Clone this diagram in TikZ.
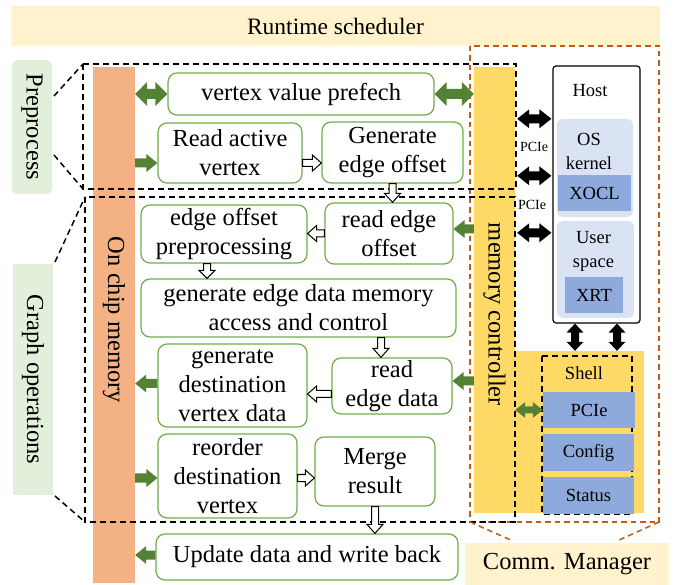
\documentclass[tikz,border=0pt]{standalone}
\usepackage{fontspec}
\setmainfont{Liberation Serif}
\usetikzlibrary{calc}
\definecolor{pgreen}{HTML}{70AD47}
\definecolor{agreen}{HTML}{548235}
\definecolor{lgreen}{HTML}{E2EFDA}
\definecolor{salmon}{HTML}{F4B183}
\definecolor{gold}{HTML}{FFD966}
\definecolor{cream}{HTML}{FFF2CC}
\definecolor{lblue}{HTML}{DAE3F3}
\definecolor{mblue}{HTML}{8EA9DB}
\definecolor{rust}{HTML}{C55A11}
\newcommand\fmain{\fontsize{24.5}{29}\selectfont}
\newcommand\fsmall{\fontsize{18.5}{24}\selectfont}
\newcommand\ftiny{\fontsize{14}{16}\selectfont}
% single block arrow: style, start, end, shaft half, head half, head length
\newcommand\sarrow[6]{%
 \coordinate (tmpB) at ($(#3)!#6pt!(#2)$);
 \path[#1] ($(#2)!#4pt!90:(#3)$) -- ($(tmpB)!#4pt!90:(#3)$) -- ($(tmpB)!#5pt!90:(#3)$) -- (#3)
   -- ($(tmpB)!#5pt!-90:(#3)$) -- ($(tmpB)!#4pt!-90:(#3)$) -- ($(#2)!#4pt!-90:(#3)$) -- cycle;}
% double block arrow
\newcommand\darrow[6]{%
 \coordinate (tmpA) at ($(#2)!#6pt!(#3)$);
 \coordinate (tmpB) at ($(#3)!#6pt!(#2)$);
 \path[#1] (#2) -- ($(tmpA)!#5pt!90:(#3)$) -- ($(tmpA)!#4pt!90:(#3)$) -- ($(tmpB)!#4pt!90:(#3)$)
   -- ($(tmpB)!#5pt!90:(#3)$) -- (#3) -- ($(tmpB)!#5pt!-90:(#3)$) -- ($(tmpB)!#4pt!-90:(#3)$)
   -- ($(tmpA)!#4pt!-90:(#3)$) -- ($(tmpA)!#5pt!-90:(#3)$) -- cycle;}
\tikzset{
 proc/.style={draw=pgreen, line width=1.2pt, rounded corners=9pt, fill=white, align=center, inner sep=0pt, font=\fmain},
 band/.style={inner sep=0pt, draw=none},
 blue/.style={fill=mblue, inner sep=0pt, font=\fsmall},
 dbox/.style={draw=black, line width=1.6pt, dash pattern=on 6pt off 4pt},
 obox/.style={draw=rust, line width=1.6pt, dash pattern=on 5.5pt off 4pt},
 garr/.style={fill=agreen},
 barr/.style={fill=black},
 harr/.style={draw=black, line width=1pt, fill=white, line join=miter},
}
\begin{document}
\begin{tikzpicture}[x=1pt,y=-1pt]
\useasboundingbox (0,0) rectangle (678,585);
% bands
\node[band, fill=cream, minimum width=649pt, minimum height=40pt, font=\fontsize{23.5}{26}\selectfont] (rs) at (335.5,26) {Runtime scheduler};
\node[band, fill=cream, minimum width=204pt, minimum height=42pt, font=\fmain] (cm) at (567,564) {Comm. Manager};
\node[band, fill=lgreen, rounded corners=5pt, minimum width=40pt, minimum height=134pt] (ppl) at (32,127) {};
\node[rotate=-90, font=\fmain] at (ppl.center) {Preprocess};
\node[band, fill=lgreen, minimum width=40pt, minimum height=231pt] (gol) at (33,379.5) {};
\node[rotate=-90, font=\fmain] at (gol.center) {Graph operations};
% bars
\node[band, fill=salmon, minimum width=42pt, minimum height=516pt] (bar) at (114,325) {};
\node[rotate=-90, font=\fmain] at (114,320) {On chip memory};
\node[band, fill=gold, minimum width=41pt, minimum height=446pt] (mc) at (494.5,290) {};
\node[band, fill=gold, minimum width=129pt, minimum height=162pt] (sa) at (579.5,432) {};
\node[rotate=-90, font=\fmain] at (494.5,314.5) {memory controller};
% dashed boxes
\draw[obox] (470,46) rectangle (659,522);
\draw[dbox] (83,64) rectangle (516,189);
\draw[dbox] (85,197) rectangle (515,522);
\draw[dbox] (542,356) rectangle (632,514);
\draw[dbox, line width=1.5pt] (54,96) -- (83,64);
\draw[dbox, line width=1.5pt] (54,155) -- (83,189);
\draw[dbox, line width=1.5pt] (55,262) -- (85,197);
\draw[dbox, line width=1.5pt] (55,496) -- (85,522);
\draw[obox, line width=1.5pt] (470,522) -- (513,541);
\draw[obox, line width=1.5pt] (659,522) -- (617,541);
% host
\node[draw=black, line width=1.2pt, rounded corners=3pt, fill=white, minimum width=87pt, minimum height=257pt, inner sep=0pt] (host) at (596.5,194.5) {};
\node[font=\fsmall] at (590,91) {Host};
\node[band, fill=lblue, rounded corners=6pt, minimum width=76pt, minimum height=98pt] (osk) at (595,168) {};
\node[font=\fsmall, align=center] at (589,151) {OS\\kernel};
\node[blue, minimum width=73pt, minimum height=36pt] (xocl) at (594.5,193) {XOCL};
\node[band, fill=lblue, rounded corners=6pt, minimum width=77pt, minimum height=97pt] (usp) at (595.5,269.5) {};
\node[font=\fsmall, align=center] at (593.5,251) {User\\space};
\node[blue, minimum width=58pt, minimum height=36pt] (xrt) at (594,295) {XRT};
% shell
\node[font=\fsmall] at (584,373) {Shell};
\node[blue, minimum width=92pt, minimum height=36pt] (pcie) at (589,410) {PCIe};
\node[blue, minimum width=91pt, minimum height=37pt] (cfg) at (588.5,452.5) {Config};
\node[blue, minimum width=91pt, minimum height=37pt] (sts) at (588.5,495.5) {Status};
\node[font=\ftiny] at (534,147) {PCIe};
\node[font=\ftiny] at (532,205) {PCIe};
% process nodes
\node[proc, minimum width=266pt, minimum height=42pt] (vv) at (301,94) {vertex value prefech};
\node[proc, minimum width=144pt, minimum height=60pt] (ra) at (230,153) {Read active\\vertex};
\node[proc, minimum width=141pt, minimum height=61pt] (ge) at (392.5,152.5) {Generate\\edge offset};
\node[proc, minimum width=128pt, minimum height=61pt] (reo) at (389,233.5) {read edge\\offset};
\node[proc, minimum width=166pt, minimum height=58pt] (eop) at (224,234) {edge offset\\preprocessing};
\node[proc, minimum width=315pt, minimum height=58pt] (gem) at (298.5,308) {generate edge data memory\\access and control};
\node[proc, minimum width=120pt, minimum height=56pt] (red) at (392,386) {read\\edge data};
\node[proc, minimum width=149pt, minimum height=83pt] (gdv) at (232.5,385.5) {generate\\destination\\vertex data};
\node[proc, minimum width=139pt, minimum height=84pt] (rdv) at (227.5,476) {reorder\\destination\\vertex};
\node[proc, minimum width=120pt, minimum height=69pt] (mr) at (375,471.5) {Merge\\result};
\node[proc, minimum width=302pt, minimum height=46pt] (upd) at (307,557) {Update data and write back};
% green arrows
\coordinate (g1s) at (bar.east |- vv.west);
\darrow{garr}{g1s}{vv.west}{5}{12}{12}
\coordinate (g2e) at (mc.west |- vv.east);
\darrow{garr}{vv.east}{g2e}{5}{12}{12}
\coordinate (g3e) at ($(ra.west)+(0,10)$);
\coordinate (g3s) at (bar.east |- g3e);
\sarrow{garr}{g3s}{g3e}{4.5}{9}{11}
\coordinate (g4e) at ($(reo.east)+(0,-4.5)$);
\coordinate (g4s) at (mc.west |- g4e);
\sarrow{garr}{g4s}{g4e}{4.5}{9}{11}
\coordinate (g5e) at ($(red.east)+(0,-5)$);
\coordinate (g5s) at (mc.west |- g5e);
\sarrow{garr}{g5s}{g5e}{4.5}{9}{11}
\coordinate (g6s) at ($(gdv.west)+(0,-2)$);
\coordinate (g6e) at (bar.east |- g6s);
\sarrow{garr}{g6s}{g6e}{4.5}{9}{11}
\coordinate (g7e) at ($(rdv.west)+(0,2)$);
\coordinate (g7s) at (bar.east |- g7e);
\sarrow{garr}{g7s}{g7e}{4.5}{9}{11}
\coordinate (g8s) at ($(upd.west)+(0,-2)$);
\coordinate (g8e) at (bar.east |- g8s);
\sarrow{garr}{g8s}{g8e}{4.5}{9}{11}
\coordinate (g9s) at (mc.east |- pcie.west);
\darrow{garr}{g9s}{pcie.west}{3.5}{8}{10}
% black arrows
\coordinate (k1) at ($(host.west |- osk.north)+(-1,0)$);
\coordinate (k1s) at ($(mc.east |- k1)+(2,0)$);
\darrow{barr}{k1s}{k1}{4.5}{9.5}{12}
\coordinate (k2) at ($(host.west |- xocl.north)+(-1,1)$);
\coordinate (k2s) at ($(mc.east |- k2)+(2,0)$);
\darrow{barr}{k2s}{k2}{4.5}{9.5}{12}
\coordinate (k3) at ($(host.west |- usp.north)+(-1,12)$);
\coordinate (k3s) at ($(mc.east |- k3)+(2,0)$);
\darrow{barr}{k3s}{k3}{4.5}{9.5}{12}
\coordinate (v1s) at ($(host.south)+(-21.5,0)$);
\coordinate (v1e) at (v1s |- sa.north);
\darrow{barr}{v1s}{v1e}{4}{8.5}{9}
\coordinate (v2s) at ($(host.south)+(20.5,0)$);
\coordinate (v2e) at (v2s |- sa.north);
\darrow{barr}{v2s}{v2e}{4}{8.5}{9}
% hollow arrows
\coordinate (h1s) at ($(ra.east)+(0,10)$);
\coordinate (h1e) at (ge.west |- h1s);
\sarrow{harr}{h1s}{h1e}{3.5}{8}{9}
\coordinate (h2e) at (ge.south |- reo.north);
\sarrow{harr}{ge.south}{h2e}{3.5}{8}{9}
\coordinate (h3e) at (eop.east |- reo.west);
\sarrow{harr}{reo.west}{h3e}{3.5}{8}{9}
\coordinate (h4s) at ($(eop.south)+(-17,0)$);
\coordinate (h4e) at (h4s |- gem.north);
\sarrow{harr}{h4s}{h4e}{3.5}{8}{8}
\coordinate (h5s) at ($(gem.south)+(82.5,0)$);
\coordinate (h5e) at (h5s |- red.north);
\sarrow{harr}{h5s}{h5e}{3.5}{8}{9}
\coordinate (h6s) at ($(red.west)+(0,8)$);
\coordinate (h6e) at (gdv.east |- h6s);
\sarrow{harr}{h6s}{h6e}{3.5}{8}{9}
\coordinate (h7s) at ($(rdv.east)+(0,2)$);
\coordinate (h7e) at (mr.west |- h7s);
\sarrow{harr}{h7s}{h7e}{3.5}{8}{9}
\coordinate (h8e) at (mr.south |- upd.north);
\sarrow{harr}{mr.south}{h8e}{3.5}{8}{9}
\end{tikzpicture}
\end{document}
